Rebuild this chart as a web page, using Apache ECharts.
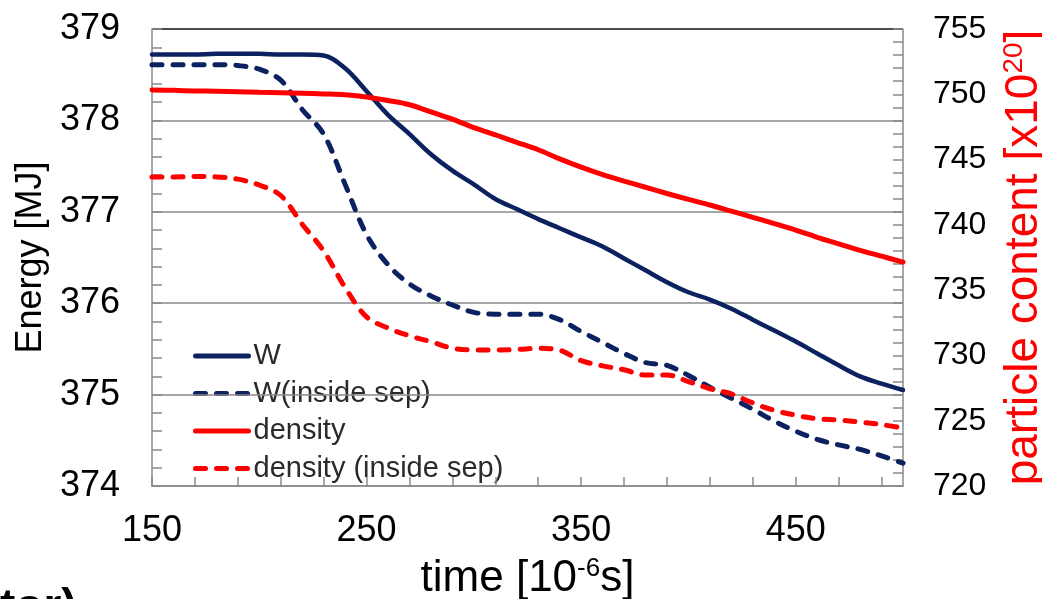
<!DOCTYPE html>
<html><head><meta charset="utf-8">
<script src="https://cdn.jsdelivr.net/npm/echarts@6/dist/echarts.min.js"></script>
<style>html,body{margin:0;padding:0;background:#fff}#c{width:1042px;height:599px}</style>
</head><body><div id="c"></div><script>
// time [10^-6 s]
const time = [150,160,170,180,190,200,210,220,230,240,250,260,270,280,290,300,310,320,330,340,350,360,370,380,390,400,410,420,430,440,450,460,470,480,490,500];
// Energy W [MJ] (left axis)
const wTotal = [378.72,378.72,378.72,378.73,378.73,378.73,378.72,378.72,378.71,378.57,378.32,378.06,377.85,377.63,377.45,377.30,377.14,377.03,376.92,376.82,376.72,376.62,376.49,376.36,376.23,376.12,376.04,375.94,375.82,375.70,375.58,375.45,375.32,375.20,375.12,375.05];
// Energy W inside separatrix [MJ] (left axis)
const wInside = [378.61,378.61,378.61,378.61,378.60,378.56,378.44,378.12,377.85,377.30,376.75,376.42,376.21,376.08,375.98,375.90,375.88,375.88,375.88,375.82,375.69,375.57,375.45,375.35,375.32,375.21,375.08,374.96,374.84,374.71,374.60,374.51,374.45,374.40,374.33,374.25];
// particle content [x10^20] (right axis)
const densTotal = [750.33,750.30,750.26,750.23,750.20,750.16,750.12,750.08,750.03,749.96,749.80,749.52,749.20,748.65,748.10,747.45,746.90,746.32,745.75,745.05,744.42,743.85,743.35,742.88,742.40,741.95,741.52,741.05,740.58,740.10,739.60,739.05,738.55,738.05,737.60,737.15];
// particle content inside separatrix [x10^20] (right axis)
const densInside = [743.67,743.67,743.70,743.67,743.50,743.05,742.25,740.05,738.00,735.20,732.95,732.10,731.50,731.05,730.55,730.42,730.42,730.45,730.55,730.40,729.60,729.20,728.90,728.50,728.50,728.00,727.45,727.05,726.36,725.80,725.42,725.15,725.05,724.90,724.70,724.44];

const seriesNames = ['W', 'W(inside sep)', 'density', 'density (inside sep)'];
const xTickLabels = [150, 250, 350, 450];
const navy = '#0b2160', red = '#ff0000', axisGray = '#8a8a8a';
const FONT = 'Liberation Sans, Arial, sans-serif';

const pairs = arr => time.map((t, i) => [t, arr[i]]);
const chart = echarts.init(document.getElementById('c'), null, {renderer: 'canvas'});

const option = {
  animation: false,
  backgroundColor: '#fff',
  grid: {left: 152, right: 139, top: 29, bottom: 113, containLabel: false, outerBoundsMode: 'none'},
  legend: {
    orient: 'vertical', left: 193, top: 341, padding: 0, itemWidth: 53, itemHeight: 30, itemGap: 7.5,
    z: 0,
    itemStyle: {opacity: 0},
    lineStyle: {width: 5},
    textStyle: {fontSize: 29, color: '#2a2a2a', fontFamily: FONT, lineHeight: 30},
    data: seriesNames
  },
  xAxis: {
    type: 'value', min: 150, max: 500, interval: 20,
    axisLine: {show: true, lineStyle: {color: axisGray, width: 1.5}},
    axisTick: {show: true, inside: true, length: 9, lineStyle: {color: axisGray, width: 1.5}},
    splitLine: {show: false},
    axisLabel: {
      formatter: v => xTickLabels.indexOf(Math.round(v)) >= 0 && Math.abs(v - Math.round(v)) < 1e-6 ? String(Math.round(v)) : '',
      fontSize: 36, color: '#000', fontFamily: FONT, margin: 27, showMaxLabel: false
    },
    name: 'time [10{sup|-6}s]', nameLocation: 'middle', nameGap: 70,
    nameTextStyle: {fontSize: 44, color: '#000', fontFamily: FONT, lineHeight: 46,
      rich: {sup: {fontSize: 26, fontFamily: FONT, color: '#000', verticalAlign: 'top', lineHeight: 24}}}
  },
  yAxis: [{
    type: 'value', min: 374, max: 379, interval: 1, position: 'left', z: 1,
    axisLine: {show: true, lineStyle: {color: axisGray, width: 1.5}},
    axisTick: {show: true, inside: true, length: 10, lineStyle: {color: axisGray, width: 1.5}},
    minorTick: {show: true, splitNumber: 5, length: 10, lineStyle: {color: axisGray, width: 1.5}},
    splitLine: {show: true, lineStyle: {color: [axisGray, axisGray, axisGray, axisGray, axisGray, '#111'], width: 1.5}},
    axisLabel: {fontSize: 36, color: '#000', fontFamily: FONT, margin: 32},
    name: 'Energy [MJ]', nameLocation: 'middle', nameGap: 95,
    nameTextStyle: {fontSize: 36, color: '#000', fontFamily: FONT}
  }, {
    type: 'value', min: 720, max: 755, interval: 5, position: 'right', z: 1,
    axisLine: {show: true, lineStyle: {color: axisGray, width: 1.5}},
    axisTick: {show: true, inside: true, length: 10, lineStyle: {color: axisGray, width: 1.5}},
    minorTick: {show: true, splitNumber: 5, length: 10, lineStyle: {color: axisGray, width: 1.5}},
    splitLine: {show: false},
    axisLabel: {fontSize: 32, color: '#000', fontFamily: FONT, margin: 30},
    name: 'particle content [x10{sup|20}]', nameLocation: 'middle', nameGap: 97,
    nameTextStyle: {fontSize: 46, color: red, fontFamily: FONT, lineHeight: 48,
      rich: {sup: {fontSize: 28, color: red, fontFamily: FONT, verticalAlign: 'top', lineHeight: 26}}}
  }],
  series: [
    {name: seriesNames[0], type: 'line', yAxisIndex: 0, data: pairs(wTotal), symbol: 'none', smooth: 0.35,
      color: navy, lineStyle: {color: navy, width: 4.5, cap: 'round'}},
    {name: seriesNames[1], type: 'line', yAxisIndex: 0, data: pairs(wInside), symbol: 'none', smooth: 0.35,
      color: navy, lineStyle: {color: navy, width: 5, type: [10, 11], cap: 'round'}},
    {name: seriesNames[2], type: 'line', yAxisIndex: 1, data: pairs(densTotal), symbol: 'none', smooth: 0.35,
      color: red, lineStyle: {color: red, width: 5, cap: 'round'}},
    {name: seriesNames[3], type: 'line', yAxisIndex: 1, data: pairs(densInside), symbol: 'none', smooth: 0.35,
      color: red, lineStyle: {color: red, width: 5, type: [10, 11], cap: 'round'}}
  ],
  graphic: [{
    type: 'text', left: 0, top: 585, silent: true,
    style: {text: 'tor)', font: 'bold 46px Liberation Sans, Arial, sans-serif', fill: '#000'}
  }]
};
chart.setOption(option);
</script></body></html>
